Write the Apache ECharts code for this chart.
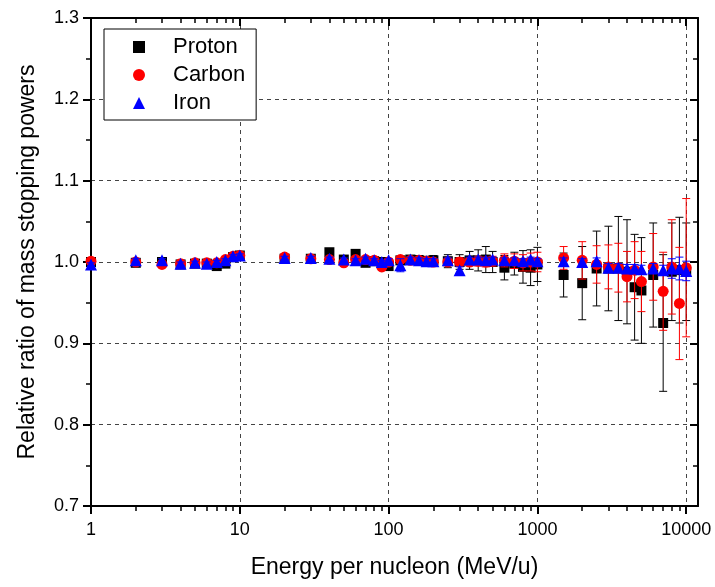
<!DOCTYPE html>
<html>
<head>
<meta charset="utf-8">
<title>Relative ratio of mass stopping powers</title>
<script src="https://cdn.jsdelivr.net/npm/echarts@6.0.0/dist/echarts.min.js"></script>
<style>
  html, body { margin: 0; padding: 0; background: #fff; }
  #chart { width: 715px; height: 587px; }
</style>
</head>
<body>
<div id="chart"></div>
<script>
const energies = [1, 2, 3, 4, 5, 6, 7, 8, 9, 10,
  20, 30, 40, 50, 60, 70, 80, 90, 100,
  120, 140, 160, 180, 200, 250, 300, 350, 400, 450, 500,
  600, 700, 800, 900, 1000,
  1500, 2000, 2500, 3000, 3500, 4000, 4500, 5000, 6000, 7000, 8000, 9000, 10000];

const protonRatio = [1.000, 0.999, 1.000, 0.997, 0.998, 0.998, 0.995, 0.998, 1.006, 1.008,
  1.004, 1.004, 1.012, 1.003, 1.010, 0.999, 1.001, 1.000, 0.995,
  1.002, 1.003, 1.002, 1.001, 1.002, 1.001, 1.000, 1.002, 1.002, 1.003, 1.000,
  0.993, 0.998, 0.994, 0.993, 0.997,
  0.984, 0.974, 0.992, 0.992, 0.992, 0.988, 0.969, 0.965, 0.984, 0.925, 0.988, 0.990, 0.988];
const protonError = [0.002, 0.002, 0.002, 0.002, 0.002, 0.002, 0.002, 0.002, 0.002, 0.002,
  0.002, 0.002, 0.002, 0.002, 0.002, 0.002, 0.002, 0.003, 0.003,
  0.004, 0.005, 0.006, 0.006, 0.006, 0.008, 0.009, 0.011, 0.013, 0.016, 0.013,
  0.015, 0.014, 0.020, 0.022, 0.021,
  0.027, 0.045, 0.046, 0.052, 0.064, 0.064, 0.065, 0.065, 0.064, 0.084, 0.060, 0.065, 0.060];

const carbonRatio = [1.001, 1.000, 0.997, 0.998, 0.999, 0.999, 0.999, 1.003, 1.007, 1.008,
  1.006, 1.004, 1.003, 0.999, 1.003, 1.003, 1.002, 0.994, 1.000,
  1.003, 1.002, 1.002, 1.001, 1.000, 1.000, 1.000, 1.000, 1.001, 1.000, 1.001,
  1.002, 1.001, 0.999, 1.000, 1.000,
  1.005, 1.002, 0.997, 0.994, 0.993, 0.982, 0.990, 0.976, 0.994, 0.964, 0.994, 0.949, 0.993];
const carbonError = [0.002, 0.002, 0.002, 0.002, 0.002, 0.002, 0.002, 0.002, 0.002, 0.002,
  0.002, 0.002, 0.002, 0.002, 0.002, 0.002, 0.002, 0.002, 0.002,
  0.003, 0.003, 0.003, 0.003, 0.003, 0.004, 0.005, 0.005, 0.006, 0.006, 0.006,
  0.008, 0.009, 0.010, 0.011, 0.012,
  0.014, 0.023, 0.023, 0.027, 0.030, 0.031, 0.035, 0.037, 0.041, 0.048, 0.058, 0.069, 0.085];

const ironRatio = [0.997, 1.002, 1.002, 0.998, 0.999, 0.998, 1.000, 1.002, 1.007, 1.008,
  1.005, 1.005, 1.004, 1.003, 1.002, 1.004, 1.002, 1.000, 1.002,
  0.996, 1.003, 1.002, 1.001, 1.001, 1.002, 0.990, 1.003, 1.003, 1.002, 1.003,
  1.002, 1.002, 1.001, 1.003, 1.001,
  1.001, 1.000, 1.001, 0.993, 0.993, 0.992, 0.992, 0.991, 0.992, 0.990, 0.992, 0.992, 0.989];
const ironError = [0.002, 0.002, 0.002, 0.002, 0.002, 0.002, 0.002, 0.002, 0.002, 0.002,
  0.002, 0.002, 0.002, 0.002, 0.002, 0.002, 0.002, 0.002, 0.002,
  0.008, 0.003, 0.003, 0.003, 0.003, 0.003, 0.004, 0.003, 0.003, 0.003, 0.003,
  0.003, 0.003, 0.003, 0.003, 0.003,
  0.004, 0.004, 0.004, 0.005, 0.005, 0.005, 0.005, 0.005, 0.006, 0.006, 0.012, 0.014, 0.012];

const xTickValues = [1, 10, 100, 1000, 10000];
const xMinorTicks = [2, 3, 4, 5, 6, 7, 8, 9, 20, 30, 40, 50, 60, 70, 80, 90,
  200, 300, 400, 500, 600, 700, 800, 900, 2000, 3000, 4000, 5000, 6000, 7000, 8000, 9000];

const FONT = 'Liberation Sans, Arial, sans-serif';
const X_MIN = 1;
const X_MAX = 12000;

const errorBarSeries = (name, values, errors, color, z) => ({
  type: 'custom',
  name: `${name} error`,
  xAxisIndex: 0,
  yAxisIndex: 0,
  z,
  silent: true,
  data: energies.map((e, i) => [e, values[i] - errors[i], values[i] + errors[i]]),
  encode: { x: 0, y: [1, 2] },
  renderItem: (params, api) => {
    const x = api.value(0);
    const low = api.coord([x, api.value(1)]);
    const high = api.coord([x, api.value(2)]);
    const half = 4;
    const style = { stroke: color, lineWidth: 1 };
    return {
      type: 'group',
      children: [
        { type: 'line', shape: { x1: high[0], y1: high[1], x2: low[0], y2: low[1] }, style },
        { type: 'line', shape: { x1: high[0] - half, y1: high[1], x2: high[0] + half, y2: high[1] }, style },
        { type: 'line', shape: { x1: low[0] - half, y1: low[1], x2: low[0] + half, y2: low[1] }, style },
      ],
    };
  },
});

const scatterSeries = (name, values, symbol, size, color, z) => ({
  type: 'scatter',
  name,
  xAxisIndex: 0,
  yAxisIndex: 0,
  z,
  symbol,
  symbolSize: size,
  itemStyle: { color, opacity: 1 },
  data: energies.map((e, i) => [e, values[i]]),
});

const axisLine = { show: true, onZero: false, lineStyle: { color: '#000', width: 2 } };
const gridLine = { show: true, lineStyle: { color: '#444', width: 1, type: [4, 4] } };

const logAxis = (extra) => ({
  type: 'log',
  logBase: 10,
  min: X_MIN,
  max: X_MAX,
  axisLine,
  splitLine: { show: false },
  axisLabel: { show: false },
  ...extra,
});

const chart = echarts.init(document.getElementById('chart'), null, { renderer: 'canvas' });

chart.setOption({
  animation: false,
  backgroundColor: '#fff',
  textStyle: { fontFamily: FONT },
  grid: {
    left: 91, right: 17, top: 18, bottom: 81,
    containLabel: false,
    outerBoundsMode: 'none',
  },
  legend: {
    orient: 'vertical',
    left: 104,
    top: 29,
    padding: [7, 11, 6, 29],
    itemGap: 6,
    itemWidth: 12,
    itemHeight: 12,
    borderColor: '#000',
    borderWidth: 1,
    borderRadius: 0,
    backgroundColor: '#fff',
    selectedMode: false,
    textStyle: { fontSize: 22, color: '#000', fontFamily: FONT, padding: [0, 0, 0, 23] },
    data: [
      { name: 'Proton', icon: 'rect', itemStyle: { color: '#000' } },
      { name: 'Carbon', icon: 'circle', itemStyle: { color: '#ff0000' } },
      { name: 'Iron', icon: 'triangle', itemStyle: { color: '#0000ff' } },
    ],
  },
  xAxis: [
    logAxis({
      position: 'bottom',
      name: 'Energy per nucleon (MeV/u)',
      nameLocation: 'middle',
      nameGap: 50,
      nameTextStyle: { fontSize: 23, color: '#000', fontFamily: FONT },
      axisTick: { show: true, length: 8, customValues: xTickValues, lineStyle: { color: '#000', width: 2 } },
      axisLabel: {
        show: true, customValues: xTickValues, margin: 15,
        fontSize: 18, color: '#000', fontFamily: FONT,
        formatter: v => String(v),
      },
      splitLine: gridLine,
    }),
    logAxis({
      position: 'bottom',
      axisLine: { show: false },
      axisTick: { show: true, length: 5, customValues: xMinorTicks, lineStyle: { color: '#000', width: 1.5 } },
    }),
    logAxis({
      position: 'top',
      axisTick: { show: true, inside: true, length: 8, customValues: xTickValues, lineStyle: { color: '#000', width: 2 } },
    }),
    logAxis({
      position: 'top',
      axisLine: { show: false },
      axisTick: { show: true, inside: true, length: 5, customValues: xMinorTicks, lineStyle: { color: '#000', width: 1.5 } },
    }),
  ],
  yAxis: [
    {
      type: 'value',
      position: 'left',
      min: 0.7,
      max: 1.3,
      interval: 0.1,
      name: 'Relative ratio of mass stopping powers',
      nameLocation: 'middle',
      nameGap: 52,
      nameTextStyle: { fontSize: 23, color: '#000', fontFamily: FONT },
      axisLine,
      axisTick: { show: true, length: 8, lineStyle: { color: '#000', width: 2 } },
      minorTick: { show: true, splitNumber: 2, length: 5, lineStyle: { color: '#000', width: 1.5 } },
      axisLabel: {
        margin: 12, fontSize: 18, color: '#000', fontFamily: FONT,
        formatter: v => v.toFixed(1),
      },
      splitLine: gridLine,
    },
    {
      type: 'value',
      position: 'right',
      min: 0.7,
      max: 1.3,
      interval: 0.1,
      axisLine,
      axisTick: { show: true, inside: true, length: 8, lineStyle: { color: '#000', width: 2 } },
      minorTick: { show: true, splitNumber: 2, length: 5, lineStyle: { color: '#000', width: 1.5 } },
      axisLabel: { show: false },
      splitLine: { show: false },
    },
  ],
  series: [
    errorBarSeries('Proton', protonRatio, protonError, '#000', 2),
    scatterSeries('Proton', protonRatio, 'rect', 10, '#000', 3),
    errorBarSeries('Carbon', carbonRatio, carbonError, '#ff0000', 4),
    scatterSeries('Carbon', carbonRatio, 'circle', 11, '#ff0000', 5),
    errorBarSeries('Iron', ironRatio, ironError, '#0000ff', 6),
    scatterSeries('Iron', ironRatio, 'triangle', 12, '#0000ff', 7),
  ],
});
</script>
</body>
</html>
